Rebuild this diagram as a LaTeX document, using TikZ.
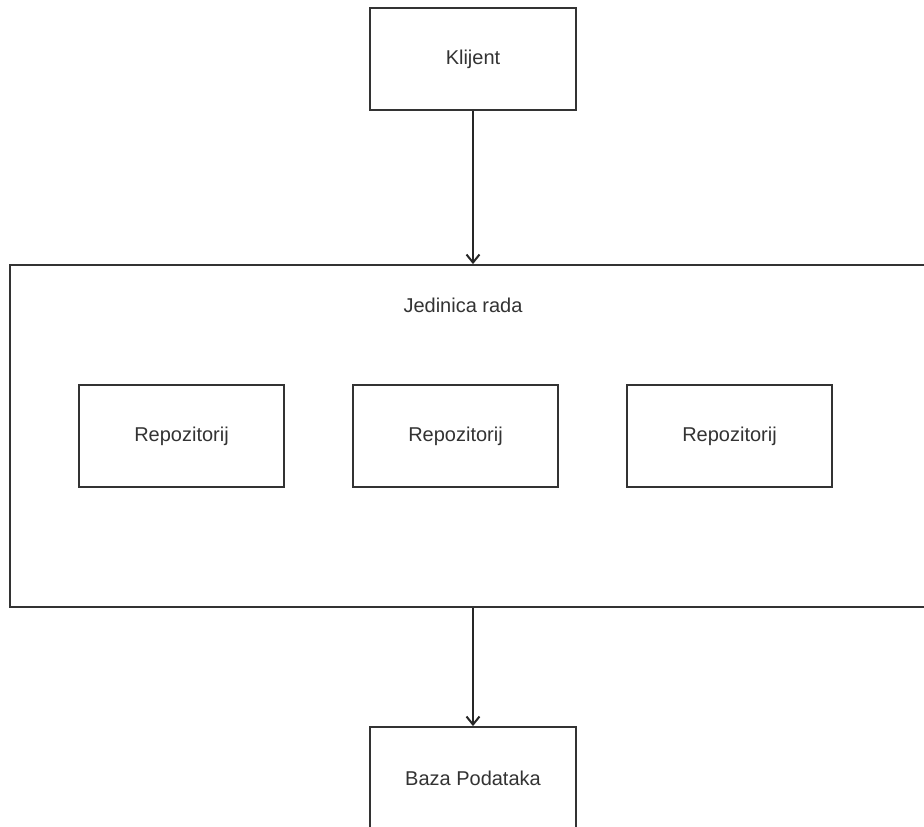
\documentclass[tikz,border=0pt]{standalone}
\usepackage{fontspec}
\setmainfont{Liberation Sans}
\usetikzlibrary{arrows.meta}

\tikzset{
	box/.style={draw=black!80, line width=1.8pt, fill=white, minimum width=205pt, minimum height=102pt, inner sep=0pt, font=\fontsize{20}{24}\selectfont, text=black!80},
	link/.style={draw=black!85, line width=2pt, -{Straight Barb[length=8pt, width=13pt]}}
}

\begin{document}
\begin{tikzpicture}[x=1pt, y=-1pt]
		% Fix the page
		\useasboundingbox (0,0) rectangle (924,827);
		\clip (0,0) rectangle (924,827);

		% Draw the unit of work
		\node[box, minimum width=925pt, minimum height=342pt] (unit) at (472.5,436) {};
		\node[font=\fontsize{20}{24}\selectfont, text=black!80] (unitlabel) at (463,305) {Jedinica rada};

		% Mark the repositories
		\foreach \x/\name in {181.5/repoA, 455.5/repoB, 729.5/repoC} {
			\node[box] (\name) at (\x,436) {Repozitorij};
		}

		% Client and database
		\node[box, minimum width=206pt] (klijent) at (473,59) {Klijent};
		\node[box, minimum width=206pt] (baza) at (473,778) {Baza Podataka};

		% Add connectors
		\draw[link] (klijent.south) -- (klijent.south |- unit.north);
		\draw[link] (baza.north |- unit.south) -- (baza.north);
	\end{tikzpicture}
\end{document}
